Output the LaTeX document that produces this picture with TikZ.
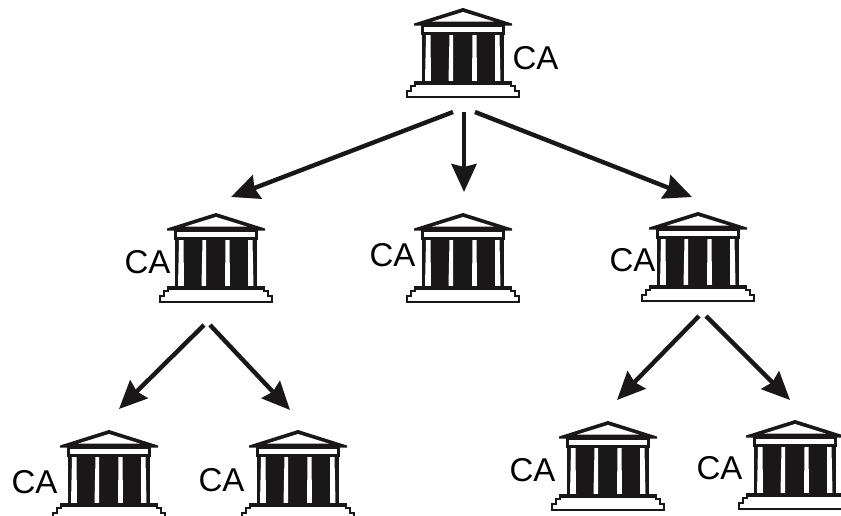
\documentclass[tikz,border=0pt]{standalone}
\usepackage{fontspec}
\setmainfont{Liberation Sans}
\usetikzlibrary{arrows.meta,calc}
\definecolor{ink}{HTML}{1A1718}
\tikzset{
  bankbox/.style={inner sep=0pt,outer sep=0pt,minimum width=56pt,minimum height=44.5pt,anchor=north},
  calabel/.style={inner sep=0pt,font=\fontsize{16.5pt}{18pt}\selectfont},
  flow/.style={line width=2.2pt,draw=ink,-{Stealth[length=14pt,width=12.5pt,inset=1.5pt,fill=ink]}},
  pics/bank/.style={code={
    \fill[ink] (0,0) -- (-49,15.5) -- (-49,17.5) -- (49,17.5) -- (49,15.5) -- cycle;
    \fill[white] (0,4) -- (-31,13.6) -- (31,13.6) -- cycle;
    \fill[ink] (-42,16) rectangle (41.5,27);
    \fill[white] (-39,19.3) rectangle (38.5,23.7);
    \fill[ink] (-41,27) rectangle (41,74);
    \fill[white] (-37,27) -- (-32.5,27) -- (-32,73) -- (-38,73) -- cycle;
    \fill[white] (-13.5,27) -- (-10,27) -- (-10,73) -- (-14.5,73) -- cycle;
    \fill[white] (9.5,27) -- (13.5,27) -- (14,73) -- (9,73) -- cycle;
    \fill[white] (32,27) -- (36.5,27) -- (37.5,73) -- (32,73) -- cycle;
    \draw[ink,fill=white,line width=1pt,line join=miter]
      (-48,74) -- (-48,78) -- (-52,78) -- (-52,83) -- (-56,83) -- (-56,89)
      -- (56,89) -- (56,83) -- (52,83) -- (52,78) -- (48,78) -- (48,74) -- cycle;
    \fill[ink] (-48,73) rectangle (48,77);
  }}
}
\begin{document}
\begin{tikzpicture}[x=0.5pt,y=-0.5pt]
\useasboundingbox (0,0) rectangle (841,515);
\clip (0,0) rectangle (841,515);
\fill[white] (0,0) rectangle (841,515);
% buildings
\node[bankbox] (b0) at (463,8) {};
\node[bankbox] (b1) at (216,213) {};
\node[bankbox] (b2) at (463,213) {};
\node[bankbox] (b3) at (698,212) {};
\node[bankbox] (b4) at (109,430) {};
\node[bankbox] (b5) at (298,430) {};
\node[bankbox] (b6) at (608,421) {};
\node[bankbox] (b7) at (795,420) {};
\foreach \b in {b0,b1,b2,b3,b4,b5,b6,b7} \pic at (\b.north) {bank};
% labels
\node[calabel] (l0) at (535.5,58) {CA};
\node[calabel] (l1) at (147.5,262) {CA};
\node[calabel] (l2) at (392.5,255) {CA};
\node[calabel] (l3) at (632.5,260) {CA};
\node[calabel] (l4) at (34.5,482) {CA};
\node[calabel] (l5) at (221.5,480) {CA};
\node[calabel] (l6) at (532.5,470) {CA};
\node[calabel] (l7) at (719.5,468) {CA};
% connectors
\draw[flow] ($(b0.south)+(-10,15)$) -- ($(b1.north)+(15,-16)$);
\draw[flow] ($(b0.south)+(1,15)$) -- ($(b2.north)+(1,-21)$);
\draw[flow] ($(b0.south)+(12,15)$) -- ($(b3.north)+(-6,-15)$);
\draw[flow] ($(b1.south)+(-12,23)$) -- ($(b4.north)+(10,-21)$);
\draw[flow] ($(b1.south)+(-6,23)$) -- ($(b5.north)+(-8,-20)$);
\draw[flow] ($(b3.south)+(1,15)$) -- ($(b6.north)+(9,-21)$);
\draw[flow] ($(b3.south)+(8,15)$) -- ($(b7.north)+(-5,-20)$);
\end{tikzpicture}
\end{document}
